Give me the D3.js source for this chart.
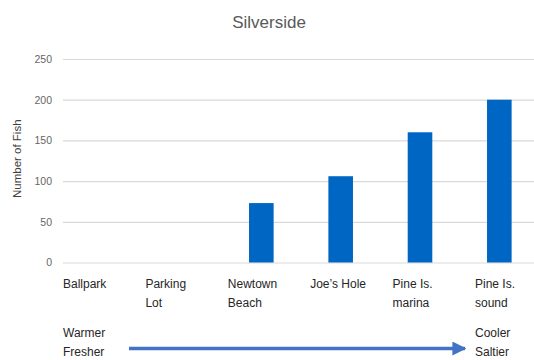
<!DOCTYPE html>
<html>
<head>
<meta charset="utf-8">
<script src="https://cdn.jsdelivr.net/npm/d3@7"></script>
<style>
  html, body { margin: 0; padding: 0; background: #fff; }
  svg { display: block; font-family: "Liberation Sans", Arial, sans-serif; }
</style>
</head>
<body>
<svg id="chart" width="534" height="360"></svg>
<script>
// Sampling sites, ordered from warmer/fresher to cooler/saltier water
const sites = ["Ballpark", "Parking Lot", "Newtown Beach", "Joe\u2019s Hole", "Pine Is. marina", "Pine Is. sound"];
const siteLines = [["Ballpark"], ["Parking", "Lot"], ["Newtown", "Beach"], ["Joe\u2019s Hole"], ["Pine Is.", "marina"], ["Pine Is.", "sound"]];
const fishCounts = [0, 0, 73, 106, 160, 200];
const yTicks = [0, 50, 100, 150, 200, 250];

const svg = d3.select("#chart");
const plot = { left: 63, right: 539, top: 59, bottom: 262.5 };

const x = d3.scaleBand().domain(sites).range([plot.left, plot.right]).paddingInner(0.69).paddingOuter(0.345);
const y = d3.scaleLinear().domain([0, 250]).range([plot.bottom, plot.top]);
// Category captions sit in their own left-aligned row beneath the plot
const labelX = d3.scalePoint().domain(sites).range([63, 475]);

// Title
svg.append("text").attr("x", 269).attr("y", 28).attr("text-anchor", "middle")
  .attr("font-size", 17).attr("fill", "#595959").text("Silverside");

// Gridlines and y tick labels
const yAxis = d3.axisLeft(y).tickValues(yTicks).tickSize(-(plot.right - plot.left)).tickPadding(11);
const ga = svg.append("g").attr("transform", `translate(${plot.left},0)`).call(yAxis);
ga.select(".domain").remove();
ga.selectAll(".tick line").attr("stroke", "#d9d9d9").attr("stroke-width", 1.2);
ga.selectAll(".tick text").attr("fill", "#666666").attr("font-size", 10.5)
  .attr("font-family", "'Liberation Sans', Arial, sans-serif");

// Y axis title
svg.append("text").attr("transform", `translate(21,${(plot.top + plot.bottom) / 2 - 2}) rotate(-90)`)
  .attr("text-anchor", "middle").attr("font-size", 11.5).attr("fill", "#404040").text("Number of Fish");

// Bars
svg.append("g").selectAll("rect").data(sites).join("rect")
  .attr("x", d => x(d))
  .attr("width", x.bandwidth())
  .attr("y", (d, i) => y(fishCounts[i]))
  .attr("height", (d, i) => y(0) - y(fishCounts[i]))
  .attr("fill", "#0066c4");

// Category labels
const lab = svg.append("g").selectAll("text").data(sites).join("text")
  .attr("x", d => labelX(d)).attr("y", 288)
  .attr("font-size", 12).attr("fill", "#262626");
lab.each(function (d, i) {
  d3.select(this).selectAll("tspan").data(siteLines[i]).join("tspan")
    .attr("x", labelX(d)).attr("dy", (t, j) => j === 0 ? 0 : 19).text(t => t);
});

// Gradient annotation
const first = sites[0], last = sites[sites.length - 1];
const ends = [
  { x: labelX(first), lines: ["Warmer", "Fresher"] },
  { x: labelX(last), lines: ["Cooler", "Saltier"] }
];
ends.forEach(e => {
  const t = svg.append("text").attr("x", e.x).attr("y", 337).attr("font-size", 12).attr("fill", "#262626");
  e.lines.forEach((s, j) => t.append("tspan").attr("x", e.x).attr("dy", j === 0 ? 0 : 19).text(s));
});

svg.append("defs").append("marker").attr("id", "arrowhead")
  .attr("viewBox", "0 0 10 10").attr("refX", 9).attr("refY", 5)
  .attr("markerWidth", 4).attr("markerHeight", 4).attr("orient", "auto")
  .append("path").attr("d", "M0,0 L10,5 L0,10 Z").attr("fill", "#4472c4");

svg.append("line").attr("x1", 129).attr("y1", 348.5).attr("x2", 465).attr("y2", 348.5)
  .attr("stroke", "#4472c4").attr("stroke-width", 3.5).attr("marker-end", "url(#arrowhead)");
</script>
</body>
</html>
